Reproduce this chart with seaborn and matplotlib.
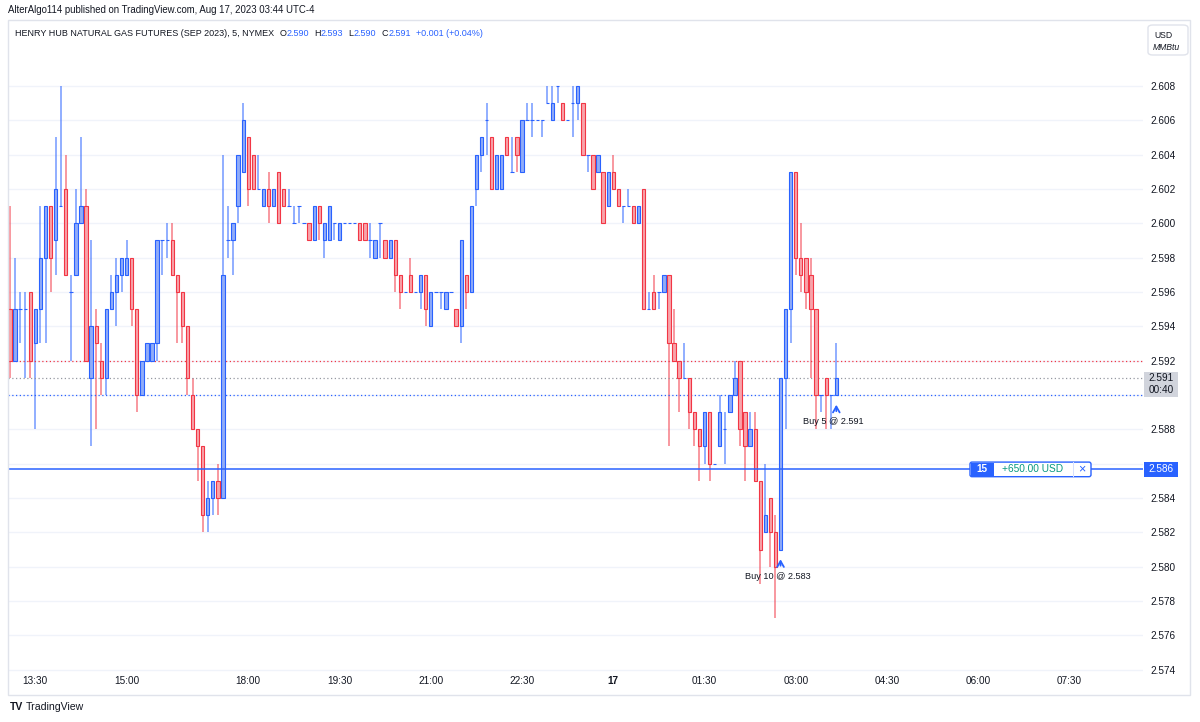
import numpy as np
import pandas as pd
import matplotlib
matplotlib.use("Agg")
import matplotlib.pyplot as plt
import matplotlib.transforms as mtransforms
from matplotlib import font_manager
from matplotlib.patches import Rectangle, FancyBboxPatch
import seaborn as sns

# --- datos (velas de 5 minutos) ---
symbol = "HENRY HUB NATURAL GAS FUTURES (SEP 2023), 5, NYMEX"
published = "AlterAlgo114 published on TradingView.com, Aug 17, 2023 03:44 UTC-4"

opens = [
    2.595, 2.592, 2.595, 2.595, 2.596, 2.593, 2.595, 2.598, 2.601, 2.599,
    2.601, 2.602, 2.596, 2.597, 2.600, 2.601, 2.591, 2.594, 2.592, 2.591,
    2.595, 2.596, 2.597, 2.597, 2.598, 2.595, 2.590, 2.592, 2.592, 2.593,
    2.599, 2.599, 2.599, 2.597, 2.596, 2.594, 2.590, 2.588, 2.587, 2.583,
    2.584, 2.585, 2.584, 2.599, 2.599, 2.601, 2.603, 2.605, 2.604, 2.602,
    2.601, 2.602, 2.601, 2.603, 2.602, 2.601, 2.600, 2.601, 2.600, 2.600,
    2.599, 2.601, 2.599, 2.599, 2.600, 2.599, 2.600, 2.600, 2.600, 2.600,
    2.600, 2.599, 2.598, 2.600, 2.599, 2.598, 2.599, 2.597, 2.596, 2.597,
    2.596, 2.596, 2.597, 2.594, 2.596, 2.596, 2.595, 2.596, 2.595, 2.594,
    2.597, 2.596, 2.602, 2.604, 2.606, 2.605, 2.602, 2.602, 2.605, 2.603,
    2.605, 2.603, 2.606, 2.606, 2.606, 2.606, 2.607, 2.606, 2.608, 2.607,
    2.606, 2.607, 2.607, 2.607, 2.604, 2.604, 2.603, 2.603, 2.601, 2.603,
    2.602, 2.601, 2.601, 2.601, 2.600, 2.602, 2.595, 2.596, 2.596, 2.596,
    2.597, 2.593, 2.592, 2.591, 2.591, 2.589, 2.588, 2.587, 2.589, 2.586,
    2.587, 2.588, 2.589, 2.590, 2.592, 2.589, 2.587, 2.588, 2.585, 2.582,
    2.584, 2.582, 2.581, 2.591, 2.595, 2.603, 2.598, 2.598, 2.597, 2.595,
    2.590, 2.591, 2.590, 2.590,
]
highs = [
    2.601, 2.598, 2.596, 2.596, 2.596, 2.595, 2.601, 2.601, 2.601, 2.605,
    2.608, 2.604, 2.597, 2.602, 2.605, 2.602, 2.599, 2.595, 2.593, 2.595,
    2.597, 2.598, 2.598, 2.599, 2.598, 2.595, 2.592, 2.593, 2.593, 2.599,
    2.599, 2.600, 2.600, 2.597, 2.596, 2.594, 2.591, 2.588, 2.587, 2.585,
    2.585, 2.586, 2.604, 2.601, 2.600, 2.604, 2.607, 2.605, 2.604, 2.604,
    2.602, 2.603, 2.602, 2.603, 2.602, 2.602, 2.601, 2.601, 2.600, 2.600,
    2.601, 2.601, 2.600, 2.601, 2.600, 2.600, 2.600, 2.600, 2.600, 2.600,
    2.600, 2.600, 2.599, 2.600, 2.599, 2.599, 2.599, 2.597, 2.596, 2.598,
    2.596, 2.597, 2.597, 2.596, 2.596, 2.596, 2.596, 2.596, 2.595, 2.599,
    2.597, 2.601, 2.604, 2.605, 2.607, 2.605, 2.604, 2.604, 2.605, 2.605,
    2.605, 2.606, 2.607, 2.607, 2.606, 2.606, 2.608, 2.608, 2.608, 2.607,
    2.606, 2.608, 2.608, 2.607, 2.604, 2.604, 2.604, 2.603, 2.603, 2.604,
    2.602, 2.601, 2.602, 2.601, 2.601, 2.602, 2.596, 2.597, 2.596, 2.597,
    2.597, 2.595, 2.592, 2.593, 2.591, 2.589, 2.588, 2.589, 2.589, 2.586,
    2.590, 2.589, 2.590, 2.592, 2.592, 2.589, 2.589, 2.589, 2.585, 2.586,
    2.584, 2.583, 2.591, 2.595, 2.603, 2.603, 2.600, 2.598, 2.598, 2.595,
    2.590, 2.591, 2.590, 2.593,
]
lows = [
    2.591, 2.592, 2.593, 2.591, 2.591, 2.588, 2.593, 2.593, 2.596, 2.597,
    2.601, 2.597, 2.592, 2.597, 2.600, 2.592, 2.587, 2.588, 2.590, 2.590,
    2.595, 2.594, 2.596, 2.597, 2.594, 2.589, 2.590, 2.592, 2.592, 2.592,
    2.597, 2.598, 2.597, 2.593, 2.593, 2.590, 2.588, 2.585, 2.582, 2.582,
    2.583, 2.583, 2.584, 2.598, 2.597, 2.600, 2.603, 2.601, 2.602, 2.602,
    2.601, 2.600, 2.601, 2.600, 2.601, 2.601, 2.600, 2.600, 2.600, 2.599,
    2.599, 2.599, 2.598, 2.599, 2.599, 2.599, 2.600, 2.600, 2.600, 2.599,
    2.599, 2.598, 2.598, 2.598, 2.598, 2.598, 2.596, 2.595, 2.596, 2.596,
    2.596, 2.595, 2.594, 2.594, 2.596, 2.595, 2.595, 2.596, 2.594, 2.593,
    2.595, 2.596, 2.601, 2.603, 2.604, 2.602, 2.602, 2.602, 2.604, 2.603,
    2.603, 2.603, 2.606, 2.605, 2.606, 2.605, 2.607, 2.606, 2.607, 2.606,
    2.606, 2.605, 2.606, 2.604, 2.603, 2.602, 2.603, 2.600, 2.601, 2.602,
    2.601, 2.600, 2.601, 2.600, 2.600, 2.595, 2.595, 2.595, 2.595, 2.596,
    2.587, 2.592, 2.589, 2.591, 2.588, 2.587, 2.585, 2.586, 2.585, 2.586,
    2.587, 2.586, 2.589, 2.590, 2.587, 2.585, 2.587, 2.585, 2.579, 2.582,
    2.580, 2.577, 2.581, 2.588, 2.593, 2.597, 2.596, 2.595, 2.591, 2.588,
    2.589, 2.588, 2.588, 2.590,
]
closes = [
    2.592, 2.595, 2.595, 2.595, 2.592, 2.595, 2.598, 2.601, 2.598, 2.602,
    2.601, 2.597, 2.596, 2.600, 2.601, 2.592, 2.594, 2.593, 2.591, 2.595,
    2.596, 2.597, 2.598, 2.598, 2.595, 2.590, 2.592, 2.593, 2.593, 2.599,
    2.599, 2.599, 2.597, 2.596, 2.594, 2.591, 2.588, 2.587, 2.583, 2.584,
    2.585, 2.584, 2.597, 2.599, 2.600, 2.604, 2.606, 2.602, 2.602, 2.602,
    2.602, 2.601, 2.602, 2.600, 2.601, 2.601, 2.600, 2.601, 2.600, 2.599,
    2.601, 2.600, 2.600, 2.601, 2.600, 2.600, 2.600, 2.600, 2.600, 2.599,
    2.599, 2.599, 2.599, 2.600, 2.598, 2.599, 2.597, 2.596, 2.596, 2.596,
    2.596, 2.597, 2.595, 2.596, 2.596, 2.596, 2.596, 2.596, 2.594, 2.599,
    2.596, 2.601, 2.604, 2.605, 2.606, 2.602, 2.604, 2.604, 2.604, 2.603,
    2.604, 2.606, 2.606, 2.606, 2.606, 2.606, 2.607, 2.607, 2.608, 2.606,
    2.606, 2.607, 2.608, 2.604, 2.604, 2.602, 2.604, 2.600, 2.603, 2.602,
    2.601, 2.601, 2.601, 2.600, 2.601, 2.595, 2.595, 2.595, 2.596, 2.597,
    2.593, 2.592, 2.591, 2.591, 2.589, 2.588, 2.587, 2.589, 2.586, 2.586,
    2.589, 2.588, 2.590, 2.591, 2.588, 2.587, 2.588, 2.585, 2.581, 2.583,
    2.582, 2.580, 2.591, 2.595, 2.603, 2.598, 2.597, 2.596, 2.595, 2.590,
    2.590, 2.590, 2.590, 2.591,
]

# sesiones CME: pausa de 17:00 a 18:00; se incluyen huecos futuros del eje
session_1 = pd.date_range("2023-08-16 13:05", "2023-08-16 16:55", freq="5min")
session_2 = pd.date_range("2023-08-16 18:00", "2023-08-17 08:00", freq="5min")
bar_times = session_1.append(session_2)

tick_times = pd.to_datetime([
    "2023-08-16 13:30", "2023-08-16 15:00", "2023-08-16 18:00", "2023-08-16 19:30",
    "2023-08-16 21:00", "2023-08-16 22:30", "2023-08-17 00:00", "2023-08-17 01:30",
    "2023-08-17 03:00", "2023-08-17 04:30", "2023-08-17 06:00", "2023-08-17 07:30",
])
tick_labels = ["13:30", "15:00", "18:00", "19:30", "21:00", "22:30", "17",
               "01:30", "03:00", "04:30", "06:00", "07:30"]
price_ticks = [2.574, 2.576, 2.578, 2.580, 2.582, 2.584, 2.586, 2.588, 2.590,
               2.592, 2.594, 2.596, 2.598, 2.600, 2.602, 2.604, 2.606, 2.608]

buy_times = pd.to_datetime(["2023-08-17 02:45", "2023-08-17 03:40"])
buy_qty = [10, 5]
buy_price = [2.583, 2.591]
prev_close = 2.590
prev_day_line = 2.592
pnl_text = "+650.00 USD"
countdown = "00:40"

# --- estilo ---
sns.set_theme(style="white")
available = {f.name for f in font_manager.fontManager.ttflist}
if "Liberation Sans Narrow" in available:
    FONT, K = "Liberation Sans Narrow", 1 / 0.82
else:
    FONT, K = "Liberation Sans", 1.0
plt.rcParams["font.family"] = [FONT, "DejaVu Sans"]

DARK = "#131722"
BLUE = "#2962FF"
RED = "#F23645"
BLUE_FILL = "#90acf8"
RED_FILL = "#f8a3aa"
GRID = "#f0f3fa"
BORDER = "#e0e3eb"

W, H = 1200, 722
fig = plt.figure(figsize=(12, 7.22), dpi=100)
fig.patch.set_facecolor("white")


def fx(px):
    return px / W


def fy(py):
    return 1 - py / H


ax = fig.add_axes([fx(8), fy(674), fx(1143) - fx(8), fy(20) - fy(674)])
ax.set_facecolor("white")

o, h, l, c = (np.array(v) for v in (opens, highs, lows, closes))
x = bar_times.get_indexer(bar_times[: len(o)])
top = np.maximum(o, c)
bot = np.minimum(o, c)
up = c >= o

for mask, edge, face in [(up, BLUE, BLUE_FILL), (~up, RED, RED_FILL)]:
    ax.vlines(x[mask], top[mask], np.maximum(h, top)[mask], color=edge, alpha=0.65, lw=1.1)
    ax.vlines(x[mask], np.minimum(l, bot)[mask], bot[mask], color=edge, alpha=0.65, lw=1.1)
    ax.bar(x[mask], (top - bot)[mask], bottom=bot[mask], width=0.66,
           color=face, edgecolor=edge, linewidth=0.8, zorder=3)

# lineas de precio
ax.axhline(prev_day_line, color=RED, lw=0.9, ls=(0, (1, 2)), zorder=2)
ax.axhline(c[-1], color="#9598a1", lw=0.9, ls=(0, (1, 2)), zorder=2)
ax.axhline(o[-1], color=BLUE, lw=0.9, ls=(0, (1, 2)), zorder=2)
pos_qty = sum(buy_qty)
pos_price = sum(q * p for q, p in zip(buy_qty, buy_price)) / pos_qty
ax.axhline(pos_price, color=BLUE, lw=1.1, zorder=4)

# ejes
ax.set_xlim(-0.4, 223.5)
ax.set_ylim(2.57375, 2.61184)
ax.set_yticks(price_ticks)
# las etiquetas tapadas por los recuadros de precio quedan vacias
covered = {f"{o[-1]:.3f}", f"{pos_price:.3f}"}
ax.set_yticklabels(["" if f"{v:.3f}" in covered else f"{v:.3f}" for v in price_ticks])
ax.yaxis.tick_right()
ax.tick_params(axis="y", length=0, pad=5, labelsize=7.2 * K, labelcolor=DARK)
ax.set_xticks(bar_times.get_indexer(tick_times))
ax.set_xticklabels(tick_labels)
ax.tick_params(axis="x", length=0, pad=1.5, labelsize=7.2 * K, labelcolor=DARK)
for lbl in ax.get_xticklabels():
    if lbl.get_text() == "17":
        lbl.set_fontweight("bold")
ax.grid(axis="y", color=GRID, lw=1)
ax.grid(axis="x", visible=False)
ax.set_axisbelow(True)
for s in ax.spines.values():
    s.set_visible(False)

# marcas de compra
for t, q, p in zip(buy_times, buy_qty, buy_price):
    i = bar_times.get_loc(t)
    head = mtransforms.offset_copy(ax.transData, fig=fig, y=-7, units="dots")
    tail = mtransforms.offset_copy(ax.transData, fig=fig, y=-19, units="dots")
    ax.annotate("", xy=(i, l[i]), xycoords=head, xytext=(i, l[i]), textcoords=tail,
                arrowprops=dict(arrowstyle="->,head_length=0.35,head_width=0.2",
                                color=BLUE, lw=1.3), annotation_clip=False)
    lab = mtransforms.offset_copy(ax.transData, fig=fig, x=-3, y=-27, units="dots")
    ax.text(i, l[i], f"Buy {q} @ {p:.3f}", transform=lab, ha="center", va="center",
            fontsize=6.6 * K, color=DARK, zorder=6)


def anchored(xfrac, yval):
    # coordenadas en pixeles relativas a un punto (fraccion de eje x, precio y)
    base = mtransforms.blended_transform_factory(ax.transAxes, ax.transData)
    return mtransforms.Affine2D() + mtransforms.ScaledTranslation(xfrac, yval, base)


# etiqueta de posicion
tr = anchored((970 - 8) / 1135, pos_price)
ax.add_patch(FancyBboxPatch((0, -7.3), 121, 14.6, boxstyle="round,pad=0,rounding_size=2",
                            transform=tr, fc="white", ec=BLUE, lw=1, zorder=7, clip_on=False))
ax.add_patch(Rectangle((0.5, -6.8), 23, 13.6, transform=tr, fc=BLUE, ec="none",
                       zorder=8, clip_on=False))
ax.add_patch(Rectangle((103, -7.3), 0.9, 14.6, transform=tr, fc="#d6e0ff", ec="none",
                       zorder=8, clip_on=False))
ax.text(12, 0, str(pos_qty), transform=tr, ha="center", va="center", color="white",
        fontsize=7.2 * K, fontweight="bold", zorder=9, clip_on=False)
ax.text(63, 0, pnl_text, transform=tr, ha="center", va="center", color="#089981",
        fontsize=7.3 * K, zorder=9, clip_on=False)
ax.text(112, 0, "\u00d7", transform=tr, ha="center", va="center", color=BLUE,
        fontsize=9 * K, zorder=9, clip_on=False)

# etiquetas del eje de precios
tr = anchored(1.0, c[-1])
ax.add_patch(Rectangle((1, -19), 34, 25, transform=tr, fc="#d1d4dc", ec="none",
                       zorder=7, clip_on=False))
ax.text(18, 0, f"{c[-1]:.3f}", transform=tr, ha="center", va="center", color=DARK,
        fontsize=7.2 * K, zorder=8, clip_on=False)
ax.text(18, -12.5, countdown, transform=tr, ha="center", va="center", color=DARK,
        fontsize=7.2 * K, zorder=8, clip_on=False)
tr = anchored(1.0, pos_price)
ax.add_patch(Rectangle((1, -7.3), 34, 14.6, transform=tr, fc=BLUE, ec="none",
                       zorder=7, clip_on=False))
ax.text(18, 0, f"{pos_price:.3f}", transform=tr, ha="center", va="center", color="white",
        fontsize=7.2 * K, zorder=8, clip_on=False)

# marco y cabecera
fig.add_artist(Rectangle((fx(8), fy(695)), fx(1190) - fx(8), fy(20) - fy(695),
                         transform=fig.transFigure, fill=False, ec=BORDER, lw=1))
fig.add_artist(FancyBboxPatch((fx(1148), fy(55)), fx(40), 30 / H,
                              boxstyle="round,pad=0,rounding_size=0.004",
                              transform=fig.transFigure, fc="white", ec=BORDER, lw=1))
fig.text(fx(1154), fy(35), "USD", fontsize=6.2 * K, color=DARK, va="center")
fig.text(fx(1153), fy(47), "MMBtu", fontsize=6.2 * K, color=DARK, va="center",
         style="italic")

fig.text(fx(8), fy(10), published, fontsize=6.95 * K, color=DARK, va="center")

chg = c[-1] - prev_close
segments = [
    (symbol, DARK, 5), ("O", DARK, 0.5), (f"{o[-1]:.3f}", BLUE, 5),
    ("H", DARK, 0.5), (f"{h[-1]:.3f}", BLUE, 5),
    ("L", DARK, 0.5), (f"{l[-1]:.3f}", BLUE, 5),
    ("C", DARK, 0.5), (f"{c[-1]:.3f}", BLUE, 5),
    (f"{chg:+.3f} ({chg / prev_close * 100:+.2f}%)", BLUE, 0),
]
renderer = fig.canvas.get_renderer()
xpos = 15
for txt, col, gap in segments:
    t = fig.text(fx(xpos), fy(33), txt, color=col, fontsize=6.45 * K, va="center")
    xpos += t.get_window_extent(renderer).width + gap

fig.text(fx(10), fy(707), "TV", fontsize=7.5 * K, fontweight="heavy", color=DARK,
         va="center")
fig.text(fx(26), fy(707), "TradingView", fontsize=7.6 * K, color=DARK, va="center")

fig.savefig("out.png", dpi=100, facecolor="white")
